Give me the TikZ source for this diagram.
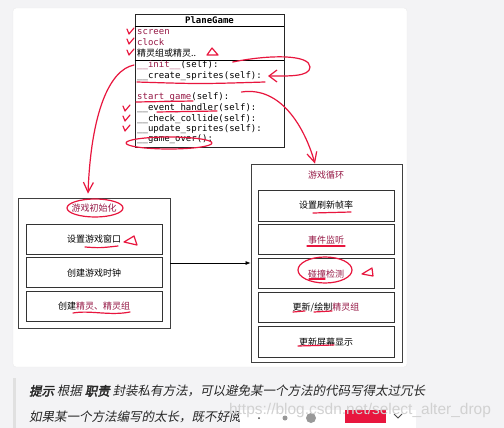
\documentclass[tikz,border=0pt]{standalone}
\usepackage{fontspec}
\usepackage{tikz}
\usetikzlibrary{positioning,calc,arrows.meta}
\newfontfamily\cjk{Noto Sans CJK SC}
\newfontfamily\cjkit{Noto Sans CJK SC}[FakeSlant=0.2]
\newfontfamily\cjkbf{Noto Sans CJK SC}[FakeSlant=0.2,FakeBold=2.5]
\newfontfamily\code{DejaVu Sans Mono}
\newfontfamily\websans{Liberation Sans}
\definecolor{umlred}{RGB}{150,25,70}
\definecolor{inkred}{RGB}{232,22,62}
\definecolor{pagegray}{RGB}{243,243,245}

\begin{document}
\begin{tikzpicture}[x=1pt,y=-1pt,
        umlbox/.style={draw=black!85, line width=0.8pt, fill=white, inner sep=0},
        codeline/.style={anchor=west, inner sep=0, font=\code\fontsize{9}{10}\selectfont},
        grpbox/.style={draw=black!75, line width=0.8pt, fill=white, inner sep=0},
        stepbox/.style={draw=black!80, line width=0.8pt, minimum width=136pt, minimum height=30pt, inner sep=0, font=\cjk\fontsize{9}{10}\selectfont},
        grptitle/.style={inner sep=1pt, text=umlred, font=\cjk\fontsize{9}{10}\selectfont},
        arrow/.style={line width=0.7pt,-{Latex[length=5pt,width=4pt]}},
        ink/.style={draw=inkred, line width=1.2pt, line cap=round, line join=round},
        barb/.style={-{Straight Barb[length=10pt,width=10pt]}},
        tick/.pic={\draw[ink] (-3,-3) -- (-1,2) -- (4,-4);}
    ]
        % page and card
        \fill[pagegray] (0,0) rectangle (504,428);
        \useasboundingbox (0,0) rectangle (504,428);
        \draw[draw=black!8, fill=white, rounded corners=3pt] (13,8) rectangle (407,367);

        % class PlaneGame
        \node[umlbox, minimum width=149pt, minimum height=133pt] (plane) at (209.5,80.5) {};
        \draw[line width=0.8pt] (plane.west |- 0,26) -- (plane.east |- 0,26);
        \draw[line width=0.8pt] (plane.west |- 0,60) -- (plane.east |- 0,60);
        \node[inner sep=0, font=\code\bfseries\fontsize{9}{10}\selectfont] (title) at (209.5,20.5) {PlaneGame};
        \node[codeline, text=umlred] (screen) at (137,32) {screen};
        \node[codeline, text=umlred] (clock) at (137,42) {clock};
        \node[codeline, font=\cjk\fontsize{9}{10}\selectfont] (sprites) at (137,53) {精灵组或精灵..};
        \node[codeline] (init) at (137,65) {\textcolor{umlred}{\_\_init\_\_}(self):};
        \node[codeline] (create) at (137,76) {\_\_create\_sprites(self):};
        \node[codeline] (start) at (137,97) {\textcolor{umlred}{start\_game}(self):};
        \node[codeline] (event) at (137,108) {\_\_event\_handler(self):};
        \node[codeline] (collide) at (137,119) {\_\_check\_collide(self):};
        \node[codeline] (update) at (137,129) {\_\_update\_sprites(self):};
        \node[codeline] (over) at (137,139) {\_\_game\_over():};

        % game init group
        \node[grpbox, minimum width=152pt, minimum height=130pt] (initgrp) at (94,263) {};
        \node[grptitle] (inittitle) at (94,208) {游戏初始化};
        \node[stepbox] (window) at (94,239) {设置游戏窗口};
        \node[stepbox, below=3pt of window] (timer) {创建游戏时钟};
        \node[stepbox, below=3pt of timer] (group) {创建\textcolor{umlred}{精灵、精灵组}};

        % game loop group
        \node[grpbox, minimum width=151pt, minimum height=198pt] (loopgrp) at (326.5,263) {};
        \node[grptitle] (looptitle) at (326,175) {游戏循环};
        \node[stepbox, minimum height=31pt] (rate) at (326,205.5) {设置刷新帧率};
        \node[stepbox, below=3pt of rate] (listen) {\textcolor{umlred}{事件监听}};
        \node[stepbox, below=3pt of listen] (hit) {\textcolor{umlred}{碰撞检测}};
        \node[stepbox, below=3pt of hit] (redraw) {更新/绘制\textcolor{umlred}{精灵组}};
        \node[stepbox, minimum height=31pt, below=3pt of redraw] (screenup) {更新屏幕显示};

        \draw[arrow] (initgrp.east) -- (loopgrp.west);

        % red pen marks
        \foreach \y in {32,42,53} \pic at (130,\y) {tick};
        \foreach \y in {109,119,129} \pic at (126,\y) {tick};
        \draw[ink] (207,55) -- (212,48) -- (218,55) -- cycle;
        \draw[ink] (137,82) .. controls (200,84) .. (265,82);
        \draw[ink] (136,102) -- (193,101);
        \draw[ink] (157,112) -- (217,111);
        \draw[ink] (169,143) ellipse [x radius=43pt, y radius=6pt];
        \draw[ink, barb] ([xshift=-3pt]init.west) .. controls +(-25,5) and +(3,-80) .. ([shift={(-6,-9)}]inittitle.north);
        \draw[ink, barb] ([shift={(12,-5)}]start.east) .. controls +(40,-6) and +(-10,-35) .. ([shift={(-11,-6)}]looptitle.north);
        \draw[ink, -{Straight Barb[length=8pt,width=12pt]}] ([shift={(14,-3)}]init.east) .. controls +(40,-8) and +(0,-12) .. (310,67) .. controls +(0,10) and +(20,0) .. ([xshift=6pt]create.east);

        \draw[ink] (95,208) ellipse [x radius=28pt, y radius=9pt];
        \draw[ink] (85,247) .. controls (100,248) .. (118,246);
        \draw[ink] (124,242) -- (134,236) -- (137,245) -- cycle;
        \draw[ink] (73,313) .. controls (90,310) and (110,316) .. (130,312);

        \draw[ink] (313,213) -- (351,212);
        \draw[ink] (307,246) -- (345,246);
        \draw[ink] (325,270) ellipse [x radius=27pt, y radius=13pt];
        \draw[ink] (309,279) -- (325,279);
        \draw[ink] (362,274) -- (372,268) -- (373,276) -- cycle;
        \draw[ink] (293,312) -- (305,311);
        \draw[ink] (314,312) -- (332,311);
        \draw[ink] (298,346) -- (334,345);

        % tip text below
        \fill[black!12] (13,378) rectangle (16,428);
        \node[anchor=west, inner sep=0, text=black!85, font=\cjkit\fontsize{12.5}{14}\selectfont] (tip) at (29,391) {{\cjkbf 提示} 根据 {\cjkbf 职责} 封装私有方法，可以避免某一个方法的代码写得太过冗长};
        \node[anchor=west, inner sep=0, text=black!85, font=\cjkit\fontsize{12.5}{14}\selectfont] (tipmore) at (29,417) {如果某一个方法编写的太长，既不好阅};

        % toolbar and watermark
        \fill[white] (240,410) rectangle (416,428);
        \fill[black!70] (259,418) circle (1pt);
        \fill[black!40] (285,418) circle (2.5pt);
        \fill[black!40] (311,418) circle (5pt);
        \fill[inkred] (345,410) rectangle (386,423);
        \draw[black!70, line width=0.8pt] (394,414) -- (398,418) -- (402,414);
        \node[inner sep=0, text=black!18, font=\websans\fontsize{15.5}{17}\selectfont] (mark) at (360,410) {https://blog.csdn.net/select\_alter\_drop};
    \end{tikzpicture}
\end{document}
